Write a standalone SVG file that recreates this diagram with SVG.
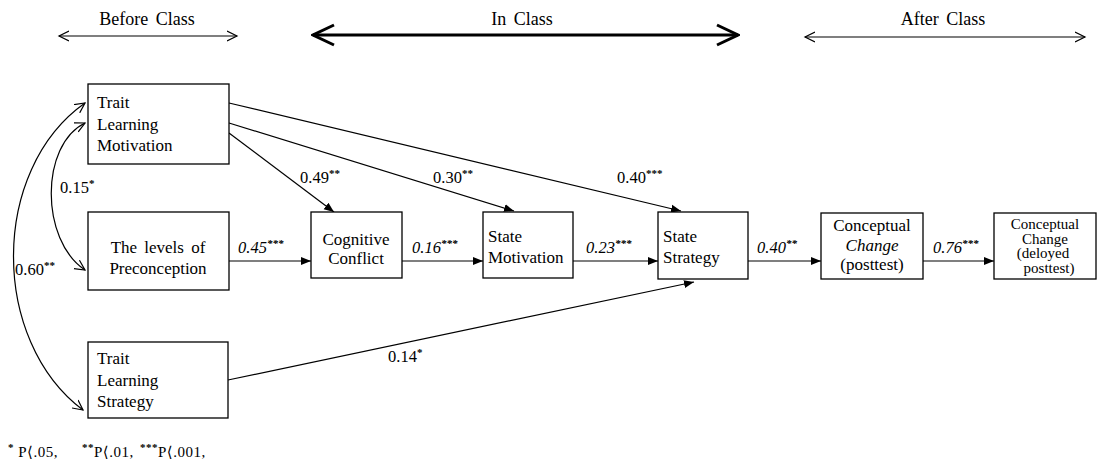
<svg xmlns="http://www.w3.org/2000/svg" width="1098" height="475" viewBox="0 0 1098 475">
<defs>
<style>
text{font-family:'Liberation Serif','Noto Serif','DejaVu Serif',serif;font-size:17px;fill:#000}
.box{fill:#fff;stroke:#000;stroke-width:1.3}
.ln{fill:none;stroke:#000;stroke-width:1.2}
.hd{font-size:18px;word-spacing:3px}
.lb{font-size:16.5px}
.it{font-style:italic}
.c{text-anchor:middle}
.sup{font-size:11px;font-weight:bold}
.dl{font-size:15px}
.fn{font-size:15px;letter-spacing:0.5px}
</style>
<marker id="fa" markerWidth="12" markerHeight="10" refX="10" refY="5" orient="auto" markerUnits="userSpaceOnUse">
<path d="M0,1 L10,5 L0,9 Z" fill="#000"/>
</marker>
<marker id="oa" markerWidth="12" markerHeight="12" refX="10" refY="6" orient="auto-start-reverse" markerUnits="userSpaceOnUse">
<path d="M0,1 L10,6 L0,11" fill="none" stroke="#000" stroke-width="1.2"/>
</marker>
<marker id="ta" markerWidth="24" markerHeight="24" refX="22" refY="12" orient="auto-start-reverse" markerUnits="userSpaceOnUse">
<path d="M1,2 L22,12 L1,22" fill="none" stroke="#000" stroke-width="3"/>
</marker>
</defs>

<g id="headers">
<text class="hd c" x="147" y="25">Before Class</text>
<line class="ln" x1="59" y1="36" x2="237" y2="36" marker-start="url(#oa)" marker-end="url(#oa)"/>
<text class="hd c" x="522" y="25">In Class</text>
<line x1="313" y1="35" x2="738" y2="35" stroke="#000" stroke-width="3" marker-start="url(#ta)" marker-end="url(#ta)"/>
<text class="hd c" x="943" y="25">After Class</text>
<line class="ln" x1="805" y1="37" x2="1085" y2="37" marker-start="url(#oa)" marker-end="url(#oa)"/>
</g>

<g id="connectors">
<path class="ln" d="M85,103 C-10,170 -10,340 83,410" marker-start="url(#oa)" marker-end="url(#oa)"/>
<path class="ln" d="M85,123 C40,145 40,240 85,270" marker-start="url(#oa)" marker-end="url(#oa)"/>
<line class="ln" x1="229" y1="133" x2="334" y2="212" marker-end="url(#fa)"/>
<line class="ln" x1="229" y1="123" x2="514" y2="211" marker-end="url(#fa)"/>
<line class="ln" x1="229" y1="103" x2="681" y2="211" marker-end="url(#fa)"/>
<line class="ln" x1="228" y1="380" x2="694" y2="282" marker-end="url(#fa)"/>
<line class="ln" x1="229" y1="261" x2="311" y2="261" marker-end="url(#fa)"/>
<line class="ln" x1="402" y1="261" x2="483" y2="261" marker-end="url(#fa)"/>
<line class="ln" x1="573" y1="261" x2="658" y2="261" marker-end="url(#fa)"/>
<line class="ln" x1="748" y1="261" x2="821" y2="261" marker-end="url(#fa)"/>
<line class="ln" x1="923" y1="261" x2="994" y2="261" marker-end="url(#fa)"/>
<text class="lb" x="15" y="275">0.60<tspan class="sup" dy="-6">**</tspan></text>
<text class="lb" x="60" y="193">0.15<tspan class="sup" dy="-6">*</tspan></text>
<text class="lb" x="300" y="183">0.49<tspan class="sup" dy="-6">**</tspan></text>
<text class="lb" x="433" y="183">0.30<tspan class="sup" dy="-6">**</tspan></text>
<text class="lb" x="617" y="183">0.40<tspan class="sup" dy="-6">***</tspan></text>
<text class="lb" x="388" y="362">0.14<tspan class="sup" dy="-6">*</tspan></text>
<text class="lb it" x="238" y="253">0.45<tspan class="sup" dy="-6">***</tspan></text>
<text class="lb it" x="412" y="253">0.16<tspan class="sup" dy="-6">***</tspan></text>
<text class="lb it" x="586" y="253">0.23<tspan class="sup" dy="-6">***</tspan></text>
<text class="lb it" x="757" y="253">0.40<tspan class="sup" dy="-6">**</tspan></text>
<text class="lb it" x="933" y="253">0.76<tspan class="sup" dy="-6">***</tspan></text>
</g>

<g id="tlm">
<rect class="box" x="88" y="84" width="141" height="80"/>
<text x="97" y="108">Trait</text>
<text x="97" y="130">Learning</text>
<text x="97" y="151">Motivation</text>
</g>
<g id="preconception">
<rect class="box" x="88" y="212" width="141" height="78"/>
<text class="c" x="158" y="253" word-spacing="3">The levels of</text>
<text class="c" x="158" y="274">Preconception</text>
</g>
<g id="tls">
<rect class="box" x="88" y="342" width="140" height="76"/>
<text x="97" y="364">Trait</text>
<text x="97" y="386">Learning</text>
<text x="97" y="407">Strategy</text>
</g>
<g id="cognitive">
<rect class="box" x="311" y="212" width="91" height="66"/>
<text class="c" x="356" y="245">Cognitive</text>
<text class="c" x="356" y="264">Conflict</text>
</g>
<g id="statemotivation">
<rect class="box" x="483" y="212" width="90" height="66"/>
<text x="488" y="242">State</text>
<text x="488" y="263">Motivation</text>
</g>
<g id="statestrategy">
<rect class="box" x="658" y="212" width="90" height="67"/>
<text x="663" y="242">State</text>
<text x="663" y="263">Strategy</text>
</g>
<g id="ccpost">
<rect class="box" x="821" y="213" width="102" height="66"/>
<text class="c" x="872" y="231">Conceptual</text>
<text class="c it" x="872" y="251">Change</text>
<text class="c" x="872" y="270">(posttest)</text>
</g>
<g id="ccdelayed">
<rect class="box" x="994" y="213" width="102" height="66"/>
<text class="c dl" x="1045" y="229">Conceptual</text>
<text class="c dl" x="1045" y="243.5">Change</text>
<text class="c dl" x="1043" y="258">(deloyed</text>
<text class="c dl" x="1049" y="272.5">posttest)</text>
</g>

<g id="footnote">
<text class="fn" x="8" y="457"><tspan class="sup" dy="-6">*</tspan><tspan dy="6"> P⟨.05,</tspan></text>
<text class="fn" x="82" y="457"><tspan class="sup" dy="-6">**</tspan><tspan dy="6">P⟨.01,</tspan></text>
<text class="fn" x="140" y="457"><tspan class="sup" dy="-6">***</tspan><tspan dy="6">P⟨.001,</tspan></text>
</g>
</svg>
